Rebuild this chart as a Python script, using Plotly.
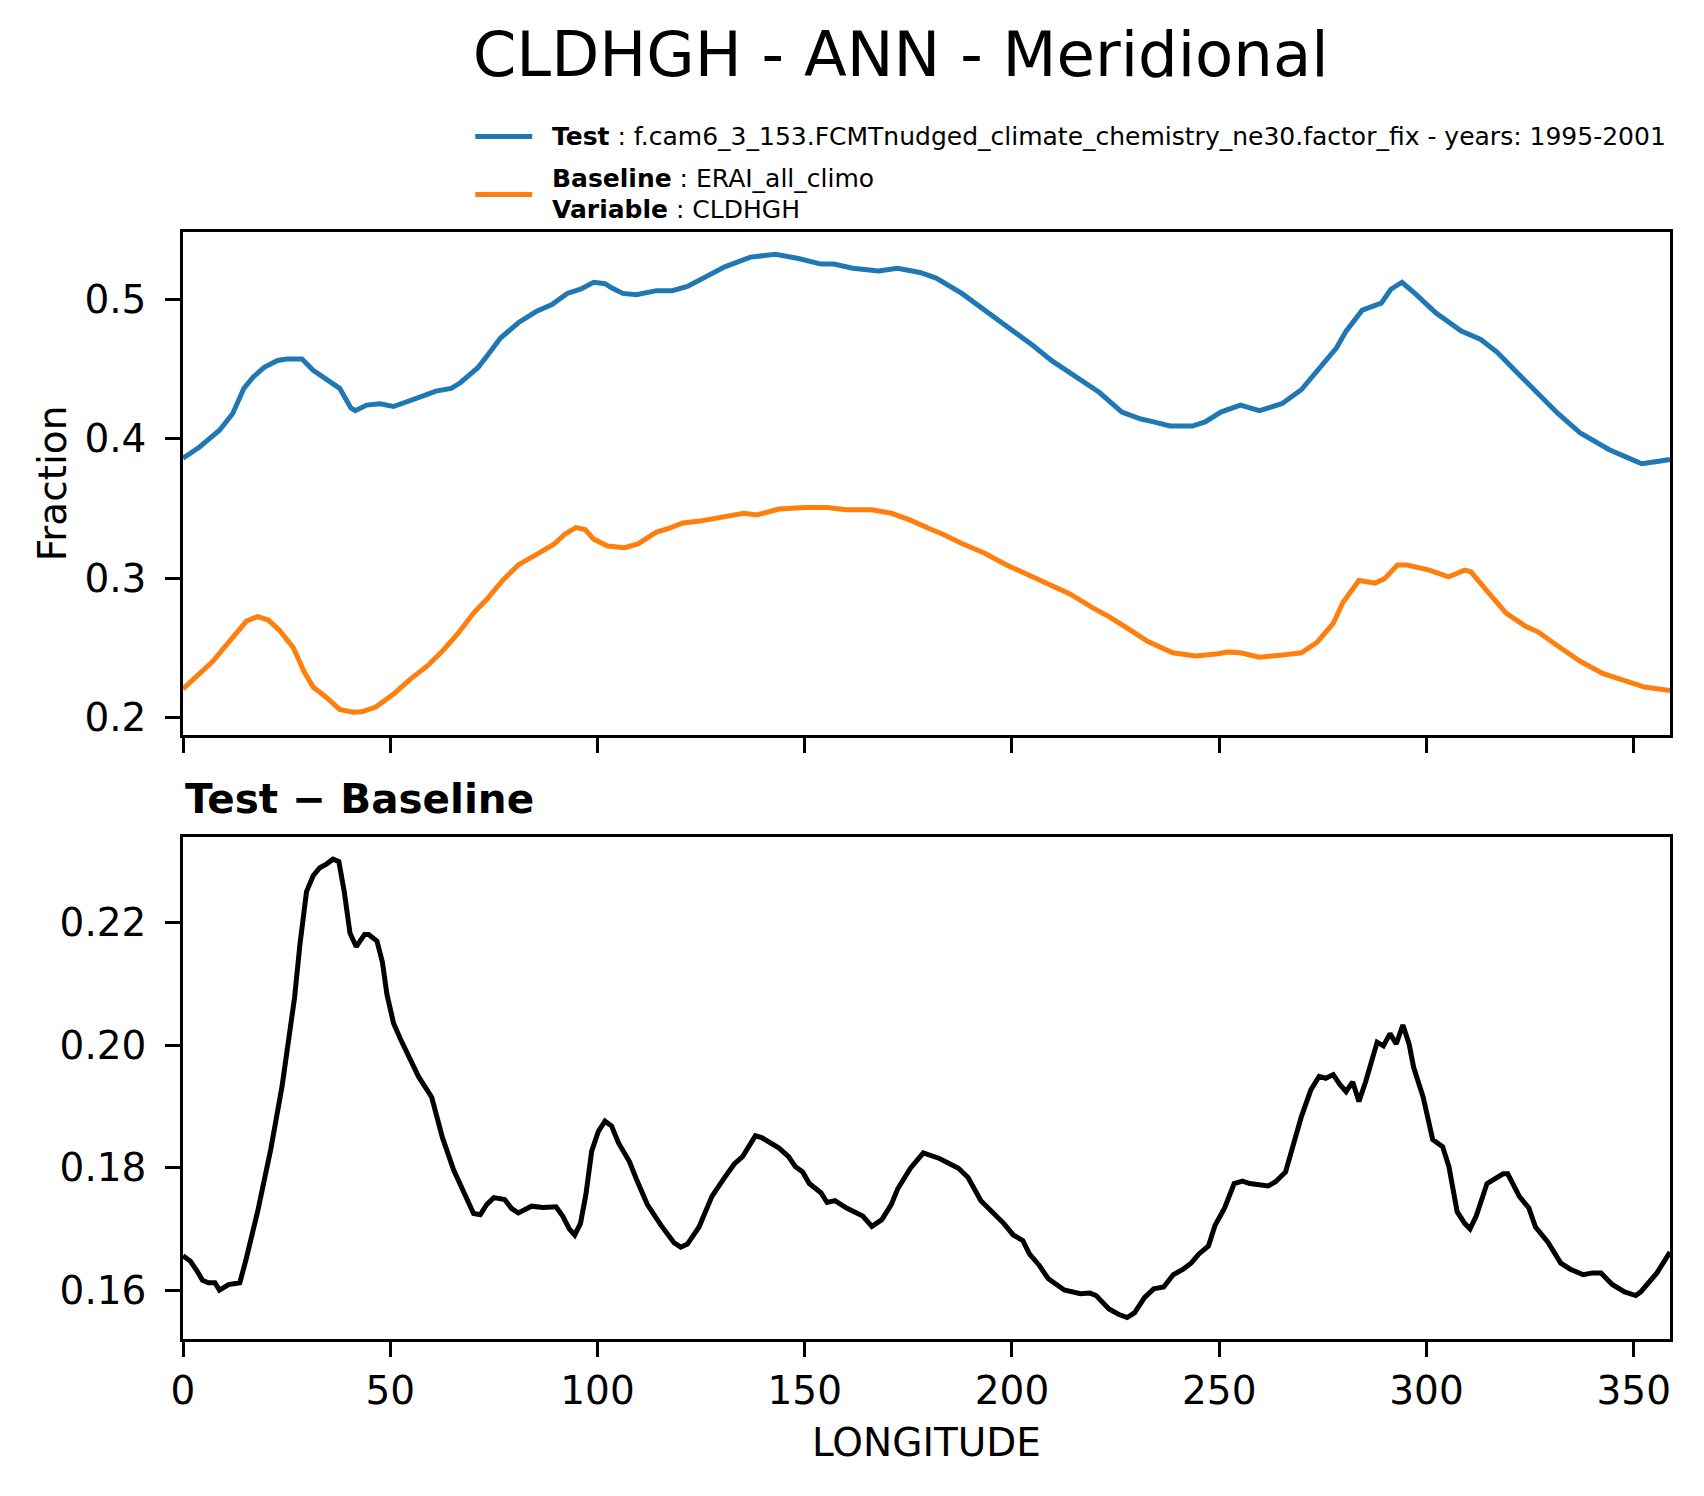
import plotly.graph_objects as go

# ---------------- data ----------------
lon_test = [0, 4, 8.8, 12, 14.7, 16.9, 19.6, 22.8, 25, 28.7, 31.4, 34.6, 37.8, 40.5, 41.6, 44.3, 47.5, 50.8, 55, 58.3,
            61, 64.7, 66.9, 71.2, 73.3, 76.6, 80.9, 85.2, 89, 92.7, 95.9, 99.1, 101.8, 103.4, 106.1, 109.4, 114.2, 118,
            121.7, 124.7, 130.7, 136.9, 143, 148.5, 153.9, 157, 161.6, 167.8, 172.4, 177.8, 181.7, 187.9, 192.5, 198.7,
            204.9, 209.5, 215.7, 221.1, 226.5, 231.1, 234.2, 238.1, 243.5, 246.6, 250.4, 255.1, 259.7, 265.1, 269.8,
            274.4, 278.3, 280.6, 284.5, 289.1, 291.4, 294.1, 295.3, 297.6, 302.3, 308.4, 313.1, 317, 321.6, 326.3,
            331.7, 337.1, 344.1, 348.8, 351.9, 356.5, 358.75]
test = [0.386, 0.394, 0.406, 0.418, 0.436, 0.444, 0.451, 0.456, 0.457, 0.457, 0.449, 0.443, 0.436, 0.422, 0.420,
        0.424, 0.425, 0.423, 0.428, 0.431, 0.434, 0.436, 0.440, 0.451, 0.459, 0.472, 0.483, 0.491, 0.496, 0.504,
        0.507, 0.512, 0.511, 0.508, 0.504, 0.503, 0.506, 0.506, 0.509, 0.514, 0.523, 0.530, 0.532, 0.529, 0.525,
        0.525, 0.522, 0.520, 0.522, 0.519, 0.515, 0.504, 0.494, 0.481, 0.467, 0.456, 0.444, 0.433, 0.419, 0.414,
        0.412, 0.409, 0.409, 0.412, 0.419, 0.424, 0.420, 0.425, 0.435, 0.451, 0.465, 0.477, 0.492, 0.497, 0.507,
        0.512, 0.509, 0.503, 0.490, 0.477, 0.471, 0.462, 0.448, 0.434, 0.418, 0.404, 0.392, 0.386, 0.382, 0.384,
        0.385]

lon_base = [0, 3.4, 7.2, 11, 13.1, 15.3, 18, 20.6, 23.3, 26.6, 29.2, 31.4, 34.6, 37.8, 41, 43.2, 46.5, 50.8, 55, 58.8,
            62.6, 66.3, 70.1, 73.3, 77.1, 80.9, 85.2, 89.5, 92.2, 94.8, 97, 99.1, 102.4, 106.6, 109.9, 114.2, 117.4,
            120.6, 124.6, 129.1, 135.3, 138.4, 143.8, 150, 155.4, 160, 166.2, 170.9, 175.5, 180.1, 183.2, 187.9, 193.3,
            198.7, 204.1, 208.7, 214.1, 219.5, 223.4, 228, 232.7, 238.8, 244.3, 249.7, 252, 255.1, 259.7, 265.1, 269.8,
            273.6, 277.5, 279.8, 282.2, 283.7, 287.6, 289.9, 293, 295.3, 300.7, 305.3, 309.2, 310.7, 314.6, 319.2,
            323.9, 327, 331.6, 337.1, 342.5, 347.9, 352.6, 358.75]
base = [0.2207, 0.2306, 0.2405, 0.2540, 0.2614, 0.2693, 0.2725, 0.2700, 0.2626, 0.2503, 0.2331, 0.2220, 0.2146,
        0.2060, 0.2040, 0.2043, 0.2077, 0.2170, 0.2281, 0.2368, 0.2479, 0.2602, 0.2750, 0.2849, 0.2984, 0.3095,
        0.3169, 0.3243, 0.3317, 0.3362, 0.3349, 0.3280, 0.3231, 0.3219, 0.3248, 0.3330, 0.3359, 0.3396, 0.3409,
        0.3435, 0.3465, 0.3453, 0.3495, 0.3507, 0.3507, 0.3490, 0.3490, 0.3465, 0.3416, 0.3354, 0.3317, 0.3248,
        0.3181, 0.3095, 0.3021, 0.2960, 0.2886, 0.2787, 0.2725, 0.2639, 0.2548, 0.2466, 0.2442, 0.2459, 0.2471,
        0.2466, 0.2434, 0.2449, 0.2466, 0.2540, 0.2676, 0.2824, 0.2923, 0.2984, 0.2965, 0.2997, 0.3095, 0.3095,
        0.3058, 0.3009, 0.3058, 0.3046, 0.2910, 0.2750, 0.2656, 0.2614, 0.2516, 0.2405, 0.2318, 0.2269, 0.2220,
        0.2195]

lon_diff = [0, 1.8, 3.4, 4.7, 6.1, 7.7, 8.8, 11, 13.7, 15.1, 18, 21.2, 23.9, 26.9, 28.2, 29.8, 31.4, 33, 34.6, 36.2,
            37.6, 38.9, 40.3, 41.8, 43.8, 44.8, 46.8, 48.1, 49.2, 50.8, 52.4, 56.8, 60, 62.6, 65.3, 68.5, 70.1, 71.7,
            73.3, 75, 77.6, 79.3, 80.9, 84.1, 86.8, 90, 91.6, 93.2, 94.5, 95.9, 97.2, 98.6, 100.2, 101.8, 103.4, 105.1,
            107.7, 109.4, 112, 115.3, 118.5, 120.1, 121.7, 124.5, 127.6, 130.7, 133, 135, 138.1, 139.6, 141.8, 143.8,
            146.1, 147.7, 149.5, 151.1, 153.9, 155.4, 157.3, 160.1, 164, 166.2, 168.6, 170.9, 172.4, 175.5, 178.6,
            180.1, 182.5, 187.1, 189.4, 192.5, 195.6, 198, 200.3, 202.6, 204.2, 206.5, 208.7, 212.6, 216.5, 218.8,
            220.3, 223.4, 225.8, 227.8, 229.6, 232, 234.2, 236.6, 238.9, 241.3, 243.2, 245.1, 247.4, 249, 251.3, 253.6,
            255.6, 257.4, 261.8, 263.6, 266, 267.5, 269.8, 272.1, 274.1, 275.7, 277.5, 279.1, 280.6, 282.2, 283.7,
            285.3, 288.1, 289.6, 291.2, 292.7, 294.3, 295.8, 296.9, 299.2, 301.5, 303.9, 305.4, 307.4, 309.2, 310.5,
            312, 314.6, 318.5, 319.6, 322.4, 324.7, 326.3, 329.3, 332.4, 334.7, 337.8, 340.1, 342.1, 344.8, 347.8,
            350.5, 351.7, 355.6, 358.75]
diff = [0.1656, 0.1647, 0.1631, 0.1616, 0.1612, 0.1612, 0.1600, 0.1609, 0.1612, 0.1647,
        0.1728, 0.1831, 0.1933, 0.2077, 0.2164, 0.2251, 0.2277, 0.2290, 0.2296, 0.2304,
        0.2300, 0.2251, 0.2183, 0.2161, 0.2181, 0.2181, 0.2170, 0.2136, 0.2083, 0.2036,
        0.2011, 0.1949, 0.1915, 0.1849, 0.1796, 0.1746, 0.1725, 0.1723, 0.1740, 0.1751,
        0.1748, 0.1733, 0.1726, 0.1737, 0.1735, 0.1736, 0.1721, 0.1700, 0.1690, 0.1709,
        0.1756, 0.1827, 0.1859, 0.1876, 0.1868, 0.1840, 0.1810, 0.1781, 0.1740, 0.1706,
        0.1677, 0.1670, 0.1675, 0.1703, 0.1753, 0.1784, 0.1806, 0.1818, 0.1852, 0.1849,
        0.1840, 0.1832, 0.1818, 0.1802, 0.1793, 0.1774, 0.1759, 0.1743, 0.1746, 0.1734,
        0.1721, 0.1704, 0.1715, 0.1740, 0.1765, 0.1799, 0.1824, 0.1821, 0.1815, 0.1799,
        0.1784, 0.1746, 0.1725, 0.1709, 0.1690, 0.1681, 0.1659, 0.1641, 0.1619, 0.1600,
        0.1594, 0.1595, 0.1591, 0.1569, 0.1560, 0.1555, 0.1563, 0.1588, 0.1602, 0.1605,
        0.1625, 0.1634, 0.1644, 0.1659, 0.1672, 0.1706, 0.1734, 0.1774, 0.1778, 0.1774,
        0.1770, 0.1777, 0.1793, 0.1831, 0.1883, 0.1927, 0.1949, 0.1946, 0.1952, 0.1936,
        0.1924, 0.1940, 0.1908, 0.1940, 0.2005, 0.1999, 0.2019, 0.2002, 0.2033, 0.2002,
        0.1964, 0.1915, 0.1846, 0.1834, 0.1802, 0.1728, 0.1709, 0.1700, 0.1721, 0.1774,
        0.1790, 0.1790, 0.1753, 0.1734, 0.1703, 0.1678, 0.1644, 0.1634, 0.1625, 0.1628,
        0.1628, 0.1609, 0.1597, 0.1591, 0.1597, 0.1628, 0.1662]

x_ticks = [0, 50, 100, 150, 200, 250, 300, 350]
top_y_ticks = [0.2, 0.3, 0.4, 0.5]
bot_y_ticks = [0.16, 0.18, 0.20, 0.22]

title_text = "CLDHGH - ANN - Meridional"
test_label = "<b>Test</b> : f.cam6_3_153.FCMTnudged_climate_chemistry_ne30.factor_fix - years: 1995-2001"
base_label = "<b>Baseline</b> : ERAI_all_climo"
var_label = "<b>Variable</b> : CLDHGH"
diff_title = "<b>Test \u2212 Baseline</b>"

BLUE = "#1f77b4"
ORANGE = "#ff7f0e"
FONT = "DejaVu Sans"
LW = 5

# ---------------- geometry ----------------
OFF = 8                      # page body margin of the browser
W, H = 1704 - OFF, 1496 - OFF
# target screen positions of the axes box
ax_left, ax_right, ax_top, ax_bottom = 182.6, 1670.3, 231.5, 1338.8
L = ax_left - OFF
R = W - (ax_right - OFF)
T = ax_top - OFF
B = H - (ax_bottom - OFF)
plot_w = W - L - R
plot_h = H - T - B


def sx(px):
    """screen x pixel -> paper x"""
    return (px - ax_left) / plot_w


def sy(py):
    """screen y pixel -> paper y"""
    return (ax_bottom - py) / plot_h


top_dom = [sy(734.6), 1]
bot_dom = [0, sy(836.8)]

# ---------------- figure ----------------
fig = go.Figure()
fig.add_trace(go.Scatter(x=lon_test, y=test, mode="lines", name="Test",
                         line=dict(color=BLUE, width=LW), xaxis="x", yaxis="y", showlegend=False))
fig.add_trace(go.Scatter(x=lon_base, y=base, mode="lines", name="Baseline",
                         line=dict(color=ORANGE, width=LW), xaxis="x", yaxis="y", showlegend=False))
fig.add_trace(go.Scatter(x=lon_diff, y=diff, mode="lines", name="Test - Baseline",
                         line=dict(color="black", width=LW), xaxis="x2", yaxis="y2", showlegend=False))

axis_common = dict(showline=True, linecolor="black", linewidth=3.3, mirror=True,
                   ticks="outside", ticklen=14.6, tickwidth=3.3, tickcolor="black",
                   showgrid=False, zeroline=False,
                   tickfont=dict(family=FONT, size=39, color="black"))

fig.update_layout(
    width=W, height=H,
    margin=dict(l=L, r=R, t=T, b=B, autoexpand=False),
    paper_bgcolor="white", plot_bgcolor="white",
    font=dict(family=FONT, color="black"),
    title=dict(text=title_text, font=dict(family=FONT, size=62.5, color="black"),
               x=sx(900.6), xref="paper", xanchor="center",
               y=1 - (54 - OFF) / H, yref="container", yanchor="middle"),
    xaxis=dict(axis_common, domain=[0, 1], range=[0, 358.75], tickvals=x_ticks,
               showticklabels=False, anchor="y"),
    yaxis=dict(axis_common, domain=top_dom, range=[0.1877, 0.548], tickvals=top_y_ticks,
               tickformat=".1f", anchor="x", ticklabelstandoff=11,
               title=dict(text="Fraction", font=dict(family=FONT, size=39, color="black"), standoff=6)),
    xaxis2=dict(axis_common, domain=[0, 1], range=[0, 358.75], tickvals=x_ticks,
                anchor="y2", matches="x", ticklabelstandoff=0,
                title=dict(text="LONGITUDE", font=dict(family=FONT, size=39, color="black"), standoff=18)),
    yaxis2=dict(axis_common, domain=bot_dom, range=[0.152, 0.234], tickvals=bot_y_ticks,
                tickformat=".2f", anchor="x2", ticklabelstandoff=11),
)

# legend drawn in the top margin (line keys + labels)
for color, py in [(BLUE, 136), (ORANGE, 194)]:
    fig.add_shape(type="line", xref="paper", yref="paper", x0=sx(475), x1=sx(532),
                  y0=sy(py), y1=sy(py), line=dict(color=color, width=LW))
for txt, py in [(test_label, 136), (base_label, 178), (var_label, 209)]:
    fig.add_annotation(text=txt, xref="paper", yref="paper", x=sx(550), y=sy(py),
                       xanchor="left", yanchor="middle", showarrow=False,
                       font=dict(family=FONT, size=25, color="black"))

fig.add_annotation(text=diff_title, xref="paper", yref="paper", x=0, y=sy(798.4),
                   xanchor="left", yanchor="middle", showarrow=False,
                   font=dict(family=FONT, size=40.5, color="black"))

fig.write_html("out.html")
